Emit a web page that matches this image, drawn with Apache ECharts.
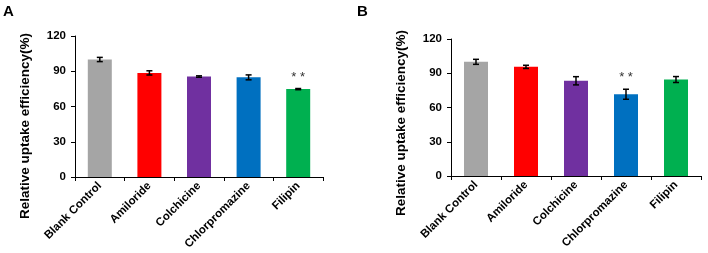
<!DOCTYPE html>
<html>
<head>
<meta charset="utf-8">
<script src="https://cdn.jsdelivr.net/npm/echarts@6/dist/echarts.min.js"></script>
<style>
  html, body { margin: 0; padding: 0; background: #fff; }
  #chart { width: 708px; height: 253px; }
</style>
</head>
<body>
<div id="chart"></div>
<script>
// 类别
const categories = ['Blank Control', 'Amiloride', 'Colchicine', 'Chlorpromazine', 'Filipin'];
const barColors = ['#A5A5A5', '#FF0000', '#7030A0', '#0070C0', '#00B050'];
const yTicks = [0, 30, 60, 90, 120];

// A 面板
const valuesA = [100, 88.6, 85.5, 84.8, 74.8];
const errorsA = [1.8, 1.8, 0.6, 2.1, 0.5];
const sigA = ['', '', '', '', '**'];

// B 面板
const valuesB = [100, 95.6, 83.4, 71.6, 84.5];
const errorsB = [2.2, 1.4, 3.6, 4.4, 2.6];
const sigB = ['', '', '', '**', ''];

const FONT = '"Liberation Sans", Arial, sans-serif';

function xAxisCfg(gridIndex) {
  return {
    type: 'category',
    gridIndex: gridIndex,
    data: categories,
    axisLine: { lineStyle: { color: '#000', width: 1 } },
    axisTick: { show: true, length: 4, lineStyle: { color: '#000' } },
    axisLabel: {
      rotate: 45,
      margin: 7,
      interval: 0,
      color: '#000',
      fontWeight: 'bold',
      fontSize: 11.5,
      fontFamily: FONT
    }
  };
}

function yAxisCfg(gridIndex) {
  return {
    type: 'value',
    gridIndex: gridIndex,
    min: yTicks[0],
    max: yTicks[yTicks.length - 1],
    interval: 30,
    axisLine: { show: true, lineStyle: { color: '#000', width: 1 } },
    axisTick: { show: true, length: 4, lineStyle: { color: '#000' } },
    splitLine: { show: false },
    axisLabel: {
      margin: 9,
      color: '#000',
      fontWeight: 'bold',
      fontSize: 11.5,
      fontFamily: FONT
    }
  };
}

function barSeries(idx, values) {
  return {
    type: 'bar',
    xAxisIndex: idx,
    yAxisIndex: idx,
    barWidth: 24,
    data: values.map((v, i) => ({ value: v, itemStyle: { color: barColors[i] } }))
  };
}

// 误差线 + 显著性标记
function errorSeries(idx, values, errors, sig) {
  return {
    type: 'custom',
    xAxisIndex: idx,
    yAxisIndex: idx,
    z: 5,
    data: values.map((v, i) => [i, v, errors[i]]),
    renderItem: function (params, api) {
      const i = api.value(0);
      const v = api.value(1);
      const e = api.value(2);
      const s = sig[i];
      const top = api.coord([i, v + e]);
      const bot = api.coord([i, v - e]);
      const cap = 3;
      const style = { stroke: '#000', lineWidth: 1.5 };
      const children = [
        { type: 'line', shape: { x1: top[0], y1: top[1], x2: bot[0], y2: bot[1] }, style: style },
        { type: 'line', shape: { x1: top[0] - cap, y1: top[1], x2: top[0] + cap, y2: top[1] }, style: style },
        { type: 'line', shape: { x1: bot[0] - cap, y1: bot[1], x2: bot[0] + cap, y2: bot[1] }, style: style }
      ];
      if (s) {
        children.push({
          type: 'text',
          x: top[0],
          y: top[1] - 5,
          style: {
            text: s.split('').join(' '),
            fill: '#333',
            font: '13px ' + FONT,
            align: 'center',
            verticalAlign: 'bottom'
          }
        });
      }
      return { type: 'group', children: children };
    }
  };
}

const chart = echarts.init(document.getElementById('chart'), null, { renderer: 'canvas' });
chart.setOption({
  animation: false,
  backgroundColor: '#fff',
  grid: [
    { left: 75, top: 36, width: 248, height: 141 },
    { left: 451, top: 39, width: 250, height: 137 }
  ],
  xAxis: [xAxisCfg(0), xAxisCfg(1)],
  yAxis: [yAxisCfg(0), yAxisCfg(1)],
  series: [
    barSeries(0, valuesA),
    errorSeries(0, valuesA, errorsA, sigA),
    barSeries(1, valuesB),
    errorSeries(1, valuesB, errorsB, sigB)
  ],
  graphic: [
    { type: 'text', left: 3, top: 4, style: { text: 'A', font: 'bold 15px ' + FONT, fill: '#000' } },
    { type: 'text', left: 357, top: 4, style: { text: 'B', font: 'bold 15px ' + FONT, fill: '#000' } },
    {
      type: 'text', x: 25, y: 126, rotation: Math.PI / 2,
      style: { text: 'Relative uptake efficiency(%)', font: 'bold 13.5px ' + FONT, fill: '#000', align: 'center', verticalAlign: 'middle' }
    },
    {
      type: 'text', x: 401, y: 123, rotation: Math.PI / 2,
      style: { text: 'Relative uptake efficiency(%)', font: 'bold 13.5px ' + FONT, fill: '#000', align: 'center', verticalAlign: 'middle' }
    }
  ]
});
</script>
</body>
</html>
